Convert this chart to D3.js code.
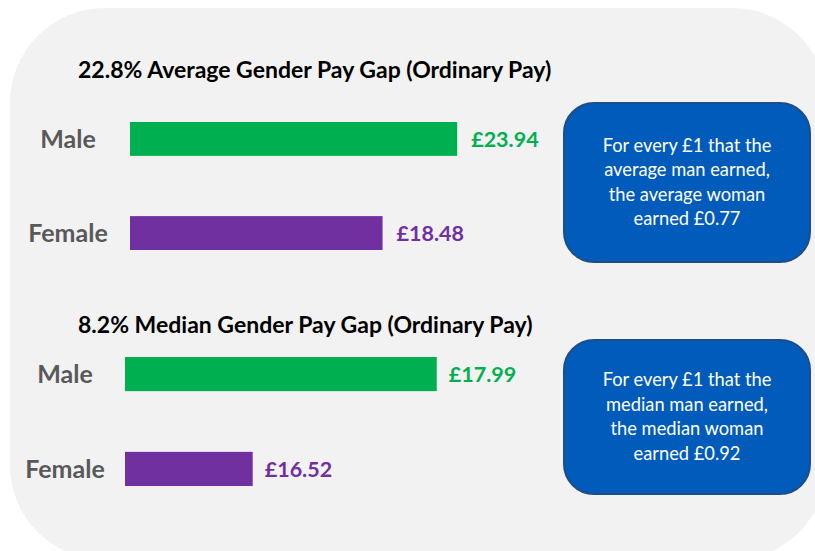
<!DOCTYPE html>
<html>
<head>
<meta charset="utf-8">
<script src="https://cdn.jsdelivr.net/npm/d3@7"></script>
<style>
  body { margin: 0; background: #fff; }
  svg { display: block; font-family: Lato, "Open Sans", sans-serif; }
</style>
</head>
<body>
<svg id="canvas" width="815" height="551"></svg>
<script>
const categories = ['Male', 'Female'];
const averagePay = [23.94, 18.48];
const medianPay = [17.99, 16.52];
const titles = ['22.8% Average Gender Pay Gap (Ordinary Pay)', '8.2% Median Gender Pay Gap (Ordinary Pay)'];
const notes = [
  ['For every £1 that the', 'average man earned,', 'the average woman', 'earned £0.77'],
  ['For every £1 that the', 'median man earned,', 'the median woman', 'earned £0.92']
];

const colors = { Male: '#00b050', Female: '#7030a0' };

const svg = d3.select('#canvas');

// grey rounded backdrop
svg.append('rect')
  .attr('x', 10).attr('y', 8)
  .attr('width', 817).attr('height', 552)
  .attr('rx', 95)
  .attr('fill', '#f2f2f2');

const panels = [
  { title: titles[0], values: averagePay, note: notes[0],
    x: d3.scaleLinear().domain([0, 24]).range([130, 458]),
    y: d3.scaleBand().domain(categories).range([122, 250]).paddingInner(0.64).paddingOuter(0),
    titleY: 78, labelX: 68, gap: 14, box: [564, 103, 246, 159] },
  { title: titles[1], values: medianPay, note: notes[1],
    x: d3.scaleLinear().domain([15.5, 18]).range([125, 438]),
    y: d3.scaleBand().domain(categories).range([357, 486]).paddingInner(0.64).paddingOuter(0),
    titleY: 333, labelX: 65, gap: 12, box: [564, 340, 246, 154] }
];

panels.forEach(p => {
  const g = svg.append('g');
  const rows = categories.map((c, i) => ({ cat: c, value: p.values[i] }));

  g.append('text')
    .attr('x', 78).attr('y', p.titleY)
    .attr('font-size', 23).attr('font-weight', 'bold')
    .attr('fill', '#000')
    .text(p.title);

  g.selectAll('rect.bar').data(rows).join('rect')
    .attr('class', 'bar')
    .attr('x', p.x.range()[0])
    .attr('y', d => p.y(d.cat))
    .attr('width', d => p.x(d.value) - p.x.range()[0])
    .attr('height', p.y.bandwidth())
    .attr('fill', d => colors[d.cat]);

  g.selectAll('text.cat').data(rows).join('text')
    .attr('class', 'cat')
    .attr('x', p.labelX)
    .attr('y', d => p.y(d.cat) + p.y.bandwidth() / 2 + 9)
    .attr('text-anchor', 'middle')
    .attr('font-size', 25).attr('font-weight', 'bold')
    .attr('fill', '#595959')
    .text(d => d.cat);

  g.selectAll('text.val').data(rows).join('text')
    .attr('class', 'val')
    .attr('x', d => p.x(d.value) + p.gap)
    .attr('y', d => p.y(d.cat) + p.y.bandwidth() / 2 + 8)
    .attr('font-size', 21.5).attr('font-weight', 'bold')
    .attr('fill', d => colors[d.cat])
    .text(d => '£' + d.value.toFixed(2));

  const [bx, by, bw, bh] = p.box;
  g.append('rect')
    .attr('x', bx).attr('y', by)
    .attr('width', bw).attr('height', bh)
    .attr('rx', 30)
    .attr('fill', '#005bbb')
    .attr('stroke', '#1f4e87')
    .attr('stroke-width', 2);

  const lh = 24.5;
  g.selectAll('text.note').data(p.note).join('text')
    .attr('class', 'note')
    .attr('x', bx + bw / 2)
    .attr('y', (d, i) => by + bh / 2 - lh * 1.5 + 6 + i * lh)
    .attr('text-anchor', 'middle')
    .attr('font-size', 18.3)
    .attr('fill', '#fff')
    .text(d => d);
});
</script>
</body>
</html>
